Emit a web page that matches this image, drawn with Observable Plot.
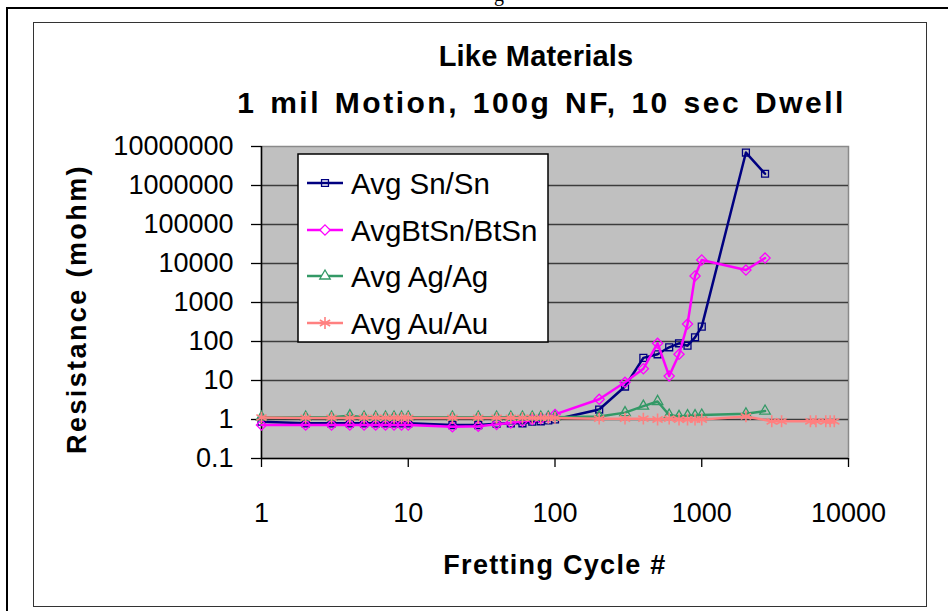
<!DOCTYPE html>
<html><head><meta charset="utf-8">
<script src="https://cdn.jsdelivr.net/npm/d3@7"></script>
<script src="https://cdn.jsdelivr.net/npm/@observablehq/plot@0.6"></script>
<style>
body{margin:0;background:#fff;}
#wrap{position:relative;width:948px;height:611px;overflow:hidden;font-family:Arial,"Liberation Sans",sans-serif;color:#000;}
#wrap > svg{position:absolute;left:0;top:0;}
.abs{position:absolute;}
.title{position:absolute;left:0;text-align:center;font-weight:bold;white-space:nowrap;}
</style></head><body><div id="wrap"></div>
<script>
// ---- data ----
const cycles = [1,2,3,4,5,6,7,8,9,10,20,30,40,50,60,70,80,90,100,200,300,400,500,600,700,800,900,1000,2000,2700];
const snSn   = [0.88,0.8,0.8,0.8,0.8,0.8,0.8,0.8,0.8,0.8,0.72,0.72,0.78,0.8,0.8,0.88,0.9,0.95,1.0,1.8,7,38,47,71,90,78,128,240,7000000,2000000];
const btSnBtSn = [0.72,0.72,0.72,0.72,0.72,0.72,0.72,0.72,0.72,0.72,0.65,0.67,0.75,0.82,0.9,1.0,1.05,1.15,1.35,3.3,9,20,90,13,47,280,4800,12300,6800,13800];
const agAg   = [1.15,1.15,1.15,1.25,1.15,1.15,1.15,1.15,1.15,1.15,1.15,1.15,1.15,1.15,1.15,1.15,1.15,1.15,1.15,1.2,1.5,2.2,2.9,1.3,1.2,1.25,1.25,1.3,1.4,1.65];
const auCycles = [1,2,3,4,5,6,7,8,9,10,20,30,40,50,60,70,80,90,100,200,300,400,500,600,700,800,900,1000,2000,3000,3500,5500,6000,7000,7500,8000];
const auAu   = [1.12,1.1,1.1,1.1,1.1,1.1,1.1,1.1,1.1,1.1,1.1,1.1,1.1,1.1,1.1,1.1,1.1,1.1,1.1,1.05,1.05,1.05,1.0,1.05,1.0,1.0,1.0,1.0,1.2,0.9,0.9,0.9,0.9,0.9,0.9,0.9];
const seriesNames = ["Avg Sn/Sn","AvgBtSn/BtSn","Avg Ag/Ag","Avg Au/Au"];
const yTicks = [0.1,1,10,100,1000,10000,100000,1000000,10000000];
const xTicks = [1,10,100,1000,10000];
const titleLines = ["Like Materials","1 mil Motion, 100g NF, 10 sec Dwell"];
const yLabel = "Resistance (mohm)";
const xLabel = "Fretting Cycle #";

// ---- build ----
const seriesX = [cycles, cycles, cycles, auCycles];
const seriesY = [snSn, btSnBtSn, agAg, auAu];
const colors = ["#000080","#FF00FF","#339966","#FF8080"];
const symbols = ["square2","diamond2","triangle2","asterisk"];
const radii = [4.4,4.6,5.0,5.6];
const rows = seriesY.map((ys,i)=>ys.map((v,j)=>({series:seriesNames[i],x:seriesX[i][j],y:v})));

const marks = [
  Plot.frame({fill:"#c0c0c0", stroke:"#8a8a8a", strokeWidth:1.5}),
  Plot.ruleY(yTicks.slice(1,-1), {stroke:"#3c3c3c", strokeWidth:1.5}),
  Plot.ruleX([1], {stroke:"#000", strokeWidth:1.5}),
  Plot.ruleY([0.1], {stroke:"#000", strokeWidth:1.5}),
  Plot.axisY({ticks:yTicks, tickFormat:d=>d<1?"0.1":d3.format("d")(d), tickSize:10, tickPadding:18, label:null, strokeWidth:1.3}),
  Plot.axisX({ticks:xTicks, tickFormat:d3.format("d"), tickSize:9, tickPadding:35, label:null, strokeWidth:1.3})
];
rows.forEach((r,i)=>{
  marks.push(Plot.line(r, {x:"x", y:"y", stroke:colors[i], strokeWidth:2.5}));
  marks.push(Plot.dot(r, {x:"x", y:"y", symbol:symbols[i], r:radii[i], stroke:colors[i], fill:"none", strokeWidth:i===3?1.6:1.3}));
});

const chart = Plot.plot({
  width:948, height:611,
  marginLeft:261, marginRight:100, marginTop:146, marginBottom:153,
  x:{type:"log", domain:[1,10000]},
  y:{type:"log", domain:[0.1,10000000]},
  style:{fontFamily:"Arial, 'Liberation Sans', sans-serif", fontSize:"27px", background:"transparent", color:"#000"},
  marks
});

const wrap = document.getElementById("wrap");
function box(l,t,w,h,css){const d=document.createElement("div");d.className="abs";d.style.cssText=`left:${l}px;top:${t}px;width:${w}px;height:${h}px;`+css;wrap.appendChild(d);return d;}
// outer page frame lines
box(6,7,940,700,"border-left:2px solid #000;border-top:2px solid #000;border-right:2px solid #000;");
// inner chart area
box(33,22,892,583,"border:1.5px solid #333;background:#fff;");
wrap.appendChild(chart);

// clipped text above the frame (only its lower part shows in the reference)
const g = document.createElement("div"); g.className="abs";
g.style.cssText="left:494px;top:-17px;font-family:'Liberation Serif',serif;font-size:20px;";
g.textContent="g"; wrap.appendChild(g);

// titles
const t1=document.createElement("div"); t1.className="title";
t1.style.cssText+="top:42px;width:1072px;font-size:29px;line-height:29px;letter-spacing:0.2px;";
t1.textContent=titleLines[0]; wrap.appendChild(t1);
const t2=document.createElement("div"); t2.className="title";
t2.style.cssText+="top:88px;width:1083px;font-size:30px;line-height:30px;letter-spacing:2.5px;word-spacing:3px;";
t2.textContent=titleLines[1]; wrap.appendChild(t2);

// axis titles
const yl=document.createElement("div"); yl.className="abs";
yl.style.cssText="left:77px;top:309px;transform:translate(-50%,-50%) rotate(-90deg);font-weight:bold;font-size:27px;letter-spacing:2.4px;white-space:nowrap;line-height:27px;";
yl.textContent=yLabel; wrap.appendChild(yl);
const xl=document.createElement("div"); xl.className="abs";
xl.style.cssText="left:555px;top:565px;transform:translate(-50%,-50%);font-weight:bold;font-size:27px;letter-spacing:1.3px;white-space:nowrap;line-height:27px;";
xl.textContent=xLabel; wrap.appendChild(xl);

// legend
const lg = d3.select(wrap).append("svg").attr("class","abs").style("left","297px").style("top","153px").attr("width",253).attr("height",191);
lg.append("rect").attr("x",1).attr("y",1).attr("width",250).attr("height",188).attr("fill","#fff").attr("stroke","#000").attr("stroke-width",1.5);
const symMap = {square2:d3.symbolSquare2, diamond2:d3.symbolDiamond2, triangle2:d3.symbolTriangle2, asterisk:d3.symbolAsterisk};
seriesNames.forEach((n,i)=>{
  const cy=[30,77,123,170][i];
  const gg=lg.append("g").attr("transform",`translate(0,${cy})`);
  gg.append("line").attr("x1",10).attr("x2",46).attr("stroke",colors[i]).attr("stroke-width",2.5);
  gg.append("path").attr("transform","translate(28,0)").attr("d",d3.symbol(symMap[symbols[i]], Math.PI*radii[i]*radii[i])()).attr("fill",i===0?"none":"#fff").attr("stroke",colors[i]).attr("stroke-width",i===3?1.6:1.3);
  gg.append("text").attr("x",54).attr("y",0).attr("dy","0.36em").attr("font-family","Arial, 'Liberation Sans', sans-serif").attr("font-size",29.5).text(n);
});
</script></body></html>
